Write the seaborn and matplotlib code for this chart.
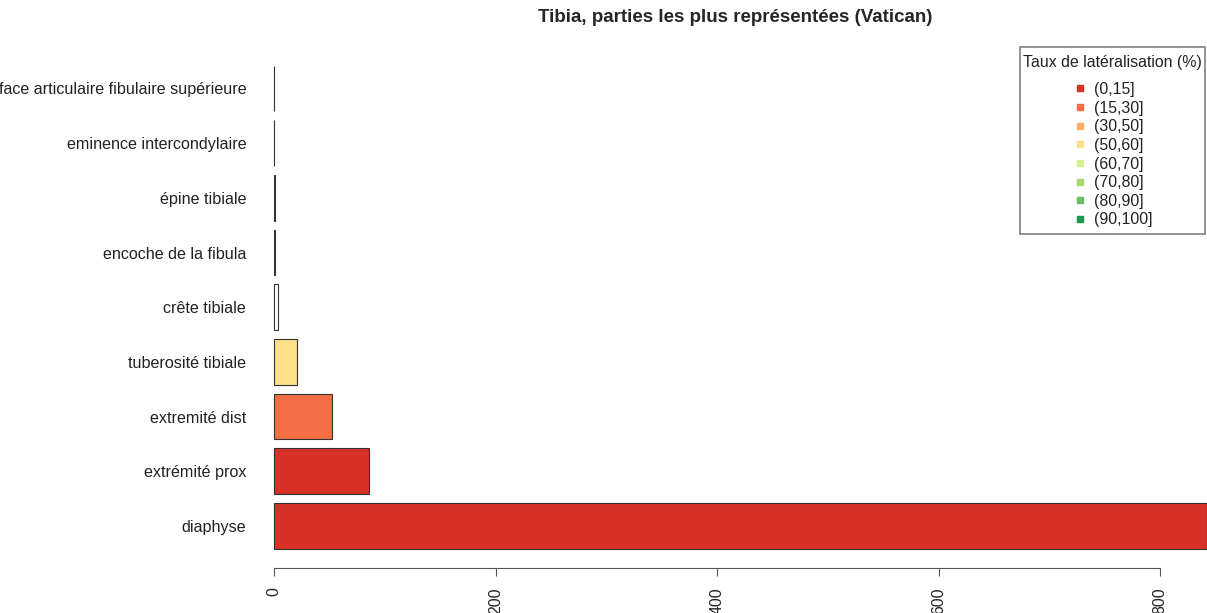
import matplotlib
matplotlib.use('Agg')
import matplotlib.pyplot as plt
from matplotlib.lines import Line2D
from matplotlib.patches import Rectangle
import seaborn as sns
import pandas as pd

# données (de haut en bas)
parties = ['face articulaire fibulaire supérieure', 'eminence intercondylaire',
           'épine tibiale', 'encoche de la fibula', 'crête tibiale',
           'tuberosité tibiale', 'extremité dist', 'extrémité prox', 'diaphyse']
effectifs = [0, 0, 1, 1, 4, 21, 52, 86, 842]
couleurs_barres = ['#D73027', '#D73027', '#F46D43', '#F46D43', '#FFFFFF',
                   '#FEE08B', '#F46D43', '#D73027', '#D73027']

# légende : classes du taux de latéralisation
classes = ['(0,15]', '(15,30]', '(30,50]', '(50,60]', '(60,70]',
           '(70,80]', '(80,90]', '(90,100]']
couleurs_classes = ['#D73027', '#F46D43', '#FDAE61', '#FEE08B', '#D9EF8B',
                    '#A6D96A', '#66BD63', '#1A9850']
ticks_x = [0, 200, 400, 600, 800]

df = pd.DataFrame({'partie': parties, 'n': effectifs})

sns.set_style('white')
plt.rcParams['font.family'] = ['Liberation Sans', 'DejaVu Sans']

W, H = 1207, 613
fig = plt.figure(figsize=(W / 100, H / 100), dpi=100)
ax = fig.add_axes([274 / W, 1 - 568 / H, (1196 - 274) / W, (568 - 46) / H])

sns.barplot(data=df, x='n', y='partie', hue='partie', order=parties,
            palette=dict(zip(parties, couleurs_barres)), legend=False,
            width=1 / 1.2, saturation=1, edgecolor='#333333', linewidth=0.8,
            ax=ax)
for p in ax.patches:
    p.set_clip_on(False)  # comme xpd=TRUE dans R : la diaphyse dépasse

ax.set_xlim(0, 832.5)
ax.set_ylim(8.77, -0.777)
ax.set_xlabel('')
ax.set_ylabel('')

for s in ['top', 'right', 'left']:
    ax.spines[s].set_visible(False)
ax.spines['bottom'].set_bounds(0, 800)
ax.spines['bottom'].set_color('#555555')
ax.spines['bottom'].set_linewidth(0.8)

ax.set_xticks(ticks_x)
ax.set_xticklabels([str(t) for t in ticks_x], rotation=90, fontsize=11.4, color='#222222')
ax.tick_params(axis='x', bottom=True, length=5.8, width=0.8, color='#555555', pad=7.9)
ax.tick_params(axis='y', left=False, length=0, pad=20, labelsize=11.6, labelcolor='#222222')

fig.text(735 / W, 1 - 17 / H, 'Tibia, parties les plus représentées (Vatican)',
         ha='center', va='center', fontsize=13.5, fontweight='bold')

# légende : titre, entrées et cadre posés à part (comme la légende R)
fig.text(1112.5 / W, 1 - 63 / H, 'Taux de latéralisation (%)', ha='center',
         va='center', fontsize=11.4, color='#222222')
handles = [Line2D([], [], marker='s', linestyle='', markersize=5,
                  markerfacecolor=c, markeredgecolor=c) for c in couleurs_classes]
leg = fig.legend(handles, classes, loc='upper center',
                 bbox_to_anchor=(1112.5 / W, 1 - 82 / H),
                 bbox_transform=fig.transFigure, borderaxespad=0, borderpad=0,
                 fontsize=11.4, handlelength=1, handletextpad=0.4,
                 labelspacing=0.23, frameon=False)
for t in leg.get_texts():
    t.set_color('#222222')
fig.patches.append(Rectangle((1020 / W, 1 - 234 / H), 185 / W, 187 / H,
                             transform=fig.transFigure, fill=False,
                             edgecolor='#808080', linewidth=1.2))

fig.savefig('out.png', dpi=100)
